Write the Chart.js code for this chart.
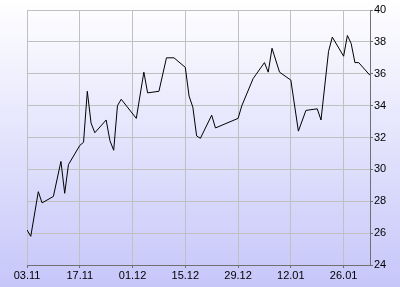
<!DOCTYPE html>
<html>
<head>
<meta charset="utf-8">
<script src="https://cdn.jsdelivr.net/npm/chart.js@4"></script>
<style>
    html, body { margin: 0; padding: 0; background: #fff; }
    #wrap { width: 400px; height: 287px; }
</style>
</head>
<body>
<div id="wrap"><canvas id="priceChart" width="400" height="287"></canvas></div>
<script>
// days counted from 03.11, trading days only
const days = [0, 1, 3, 4, 7, 9, 10, 11, 14, 15, 16, 17, 18, 21, 22, 23, 24, 25, 29, 31,
    32, 35, 37, 39, 42, 43, 44, 45, 46, 49, 50, 56, 57, 60, 63, 64, 65, 67, 70, 72,
    74, 77, 78, 80, 81, 84, 85, 86, 87, 88, 91];
const prices = [26.2, 25.8, 28.6, 27.9, 28.3, 30.5, 28.5, 30.3, 31.5, 31.7, 34.9, 32.9, 32.3, 33.1, 31.8, 31.2, 34.0, 34.4, 33.2, 36.1,
    34.8, 34.9, 37.0, 37.0, 36.4, 34.6, 33.9, 32.1, 31.95, 33.4, 32.6, 33.2, 34.0, 35.7, 36.7, 36.1, 37.6, 36.1, 35.6, 32.4,
    33.7, 33.8, 33.1, 37.4, 38.3, 37.1, 38.4, 37.9, 36.7, 36.7, 35.9];
const xTickDays = [0, 14, 28, 42, 56, 70, 84];
const xTickLabels = ['03.11', '17.11', '01.12', '15.12', '29.12', '12.01', '26.01'];
const yMin = 24, yMax = 40, yStep = 2;

const bgPlugin = {
    id: 'bg',
    beforeDraw(chart) {
        const ctx = chart.ctx;
        const g = ctx.createLinearGradient(0, 0, 0, chart.height);
        g.addColorStop(0, '#ffffff');
        g.addColorStop(1, '#c6c6fa');
        ctx.save();
        ctx.fillStyle = g;
        ctx.fillRect(0, 0, chart.width, chart.height);
        ctx.restore();
    }
};

const ctx = document.getElementById('priceChart').getContext('2d');
new Chart(ctx, {
    type: 'line',
    data: {
        datasets: [{
            data: days.map((d, i) => ({ x: d, y: prices[i] })),
            borderColor: '#000',
            borderWidth: 1,
            pointRadius: 0,
            tension: 0,
            fill: false
        }]
    },
    options: {
        responsive: false,
        animation: false,
        layout: { padding: { left: 27, top: 10, right: 0, bottom: 0 } },
        plugins: { legend: { display: false }, tooltip: { enabled: false } },
        scales: {
            x: {
                type: 'linear',
                min: 0,
                max: days[days.length - 1],
                afterBuildTicks: axis => { axis.ticks = xTickDays.map(v => ({ value: v })); },
                afterFit: axis => { axis.height = 22; },
                grid: { color: '#c0c0c0', tickLength: 3, tickColor: '#707070' },
                border: { color: '#707070' },
                ticks: {
                    color: '#000',
                    font: { family: 'Liberation Sans', size: 11 },
                    padding: 1,
                    maxRotation: 0,
                    callback: v => xTickLabels[xTickDays.indexOf(v)]
                }
            },
            y: {
                position: 'right',
                min: yMin,
                max: yMax,
                afterFit: axis => { axis.width = 30; },
                grid: { color: '#c0c0c0', tickLength: 3, tickColor: '#707070' },
                border: { color: '#707070' },
                ticks: {
                    stepSize: yStep,
                    color: '#000',
                    font: { family: 'Liberation Sans', size: 11 },
                    padding: 1
                }
            }
        }
    },
    plugins: [bgPlugin]
});
</script>
</body>
</html>
